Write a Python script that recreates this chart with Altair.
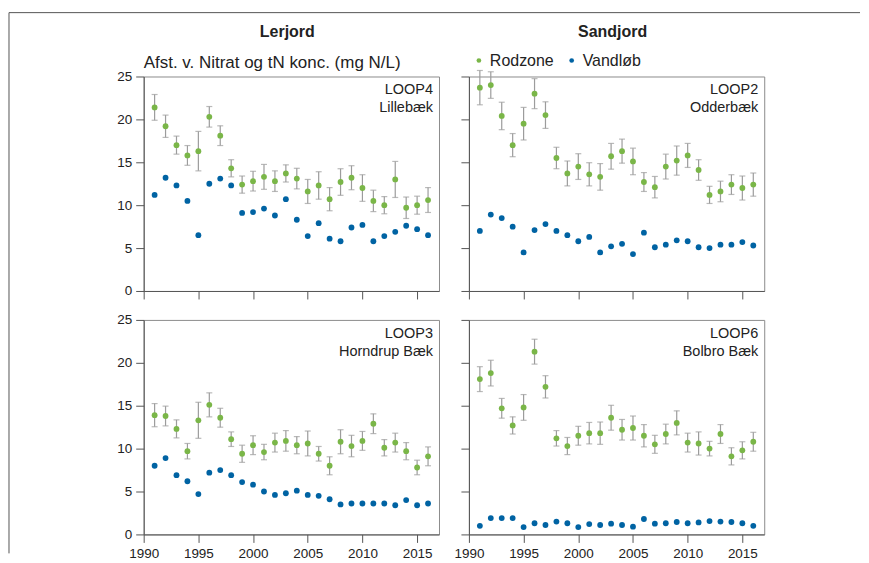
import altair as alt
import pandas as pd

years = list(range(1991, 2017))
x_ticks = [1990, 1995, 2000, 2005, 2010, 2015]
y_ticks = [0, 5, 10, 15, 20, 25]

series_names = ["Rodzone", "Vandløb"]
series_colors = ["#7ab648", "#0063a3"]

col_titles = ["Lerjord", "Sandjord"]
y_title = "Afst. v. Nitrat og tN konc. (mg N/L)"

codes = ["LOOP4", "LOOP2", "LOOP3", "LOOP6"]
names = ["Lillebæk", "Odderbæk", "Horndrup Bæk", "Bolbro Bæk"]

# LOOP4 Lillebæk
loop4_rod = [21.4, 19.2, 17.0, 15.8, 16.3, 20.3, 18.1, 14.3, 12.4, 12.8, 13.3, 12.8, 13.7,
             13.1, 11.6, 12.3, 10.7, 12.7, 13.2, 12.0, 10.5, 10.0, 13.0, 9.7, 10.0, 10.6]
loop4_err = [1.5, 1.3, 1.05, 1.15, 2.3, 1.2, 1.15, 1.0, 1.0, 1.15, 1.45, 1.2, 1.0,
             1.2, 1.4, 1.6, 1.35, 1.55, 1.4, 1.55, 1.25, 1.0, 2.1, 1.25, 1.05, 1.45]
loop4_vand = [11.2, 13.2, 12.3, 10.5, 6.5, 12.5, 13.1, 12.3, 9.1, 9.2, 9.6, 8.8, 10.7,
              8.3, 6.4, 7.9, 6.1, 5.8, 7.4, 7.7, 5.8, 6.4, 6.9, 7.6, 7.2, 6.5]

# LOOP2 Odderbæk
loop2_rod = [23.7, 24.0, 20.4, 17.0, 19.5, 23.0, 20.5, 15.5, 13.7, 14.5, 13.6, 13.3, 15.7,
             16.3, 15.1, 12.7, 12.1, 14.5, 15.2, 15.8, 14.1, 11.2, 11.6, 12.4, 12.0, 12.4]
loop2_err = [2.0, 1.55, 1.6, 1.35, 1.9, 1.75, 1.55, 1.25, 1.45, 1.5, 1.35, 1.55, 1.5,
             1.4, 1.55, 1.1, 1.25, 1.45, 1.7, 1.4, 1.2, 1.0, 1.2, 1.15, 1.4, 1.35]
loop2_vand = [7.0, 8.9, 8.5, 7.5, 4.5, 7.1, 7.8, 7.0, 6.5, 5.8, 6.3, 4.5, 5.2,
              5.5, 4.3, 6.8, 5.1, 5.4, 5.9, 5.8, 5.1, 5.0, 5.4, 5.4, 5.7, 5.3]

# LOOP3 Horndrup Bæk
loop3_rod = [13.9, 13.8, 12.3, 9.7, 13.3, 15.1, 13.6, 11.1, 9.4, 10.4, 9.6, 10.7, 10.9,
             10.4, 10.6, 9.4, 8.0, 10.8, 10.3, 10.9, 12.9, 10.1, 10.7, 9.7, 7.8, 9.1]
loop3_err = [1.35, 1.15, 1.05, 0.9, 2.1, 1.4, 1.1, 0.85, 1.0, 1.1, 0.9, 1.1, 1.2,
             1.0, 1.45, 0.85, 1.05, 1.4, 1.25, 1.1, 1.15, 0.95, 1.1, 1.0, 0.85, 1.1]
loop3_vand = [8.0, 8.9, 6.9, 6.2, 4.7, 7.2, 7.5, 6.9, 6.1, 5.8, 5.0, 4.6, 4.8,
              5.1, 4.6, 4.5, 4.1, 3.5, 3.6, 3.6, 3.6, 3.6, 3.4, 4.0, 3.4, 3.6]

# LOOP6 Bolbro Bæk
loop6_rod = [18.1, 18.8, 14.7, 12.7, 14.8, 21.3, 17.2, 11.2, 10.3, 11.5, 11.8, 11.8, 13.6,
             12.2, 12.4, 11.5, 10.5, 11.7, 13.0, 10.7, 10.6, 10.0, 11.7, 9.1, 9.8, 10.8]
loop6_err = [1.45, 1.5, 1.15, 1.0, 1.5, 1.45, 1.3, 0.9, 1.0, 1.1, 1.25, 1.3, 1.45,
             1.2, 1.4, 1.3, 1.05, 1.15, 1.4, 1.1, 1.35, 0.85, 1.1, 1.0, 1.0, 1.1]
loop6_vand = [1.0, 1.9, 1.9, 1.9, 0.85, 1.3, 1.1, 1.5, 1.3, 0.85, 1.2, 1.1, 1.25,
              1.1, 0.9, 1.8, 1.25, 1.3, 1.45, 1.3, 1.4, 1.55, 1.5, 1.45, 1.3, 1.0]

FONT = "Liberation Sans"
W, H = 296, 215


def panel(rod, err, vand, idx, show_x, show_y, title=None, first=False):
    eb = pd.DataFrame({
        "year": years,
        "lo": [r - e for r, e in zip(rod, err)],
        "hi": [r + e for r, e in zip(rod, err)],
    })
    pts = pd.DataFrame({
        "year": years + years,
        "value": vand + rod,
        "serie": [series_names[1]] * len(years) + [series_names[0]] * len(years),
    })
    xenc = alt.X("year:Q", title=None,
                 scale=alt.Scale(domain=[1990, 2017], nice=False, zero=False),
                 axis=alt.Axis(values=x_ticks, labels=show_x, format="d"))
    yaxis = alt.Axis(values=y_ticks, labels=show_y)
    yscale = alt.Scale(domain=[0, 25], nice=False)

    rules = alt.Chart(eb).mark_rule(color="#9c9c9c", strokeWidth=1.2).encode(
        x=xenc,
        y=alt.Y("lo:Q", scale=yscale, axis=yaxis, title=None),
        y2="hi:Q",
    )
    cap_lo = alt.Chart(eb).mark_tick(orient="horizontal", size=6, thickness=1.2,
                                     color="#9c9c9c").encode(
        x=xenc, y=alt.Y("lo:Q", scale=yscale, axis=yaxis, title=None))
    cap_hi = alt.Chart(eb).mark_tick(orient="horizontal", size=6, thickness=1.2,
                                     color="#9c9c9c").encode(
        x=xenc, y=alt.Y("hi:Q", scale=yscale, axis=yaxis, title=None))
    points = alt.Chart(pts).mark_circle(size=34, opacity=1).encode(
        x=xenc,
        y=alt.Y("value:Q", scale=yscale, axis=yaxis, title=None),
        color=alt.Color("serie:N",
                        scale=alt.Scale(domain=series_names, range=series_colors),
                        legend=alt.Legend(orient="none", legendX=328, legendY=-24,
                                          direction="horizontal", title=None,
                                          symbolType="circle", symbolSize=22,
                                          labelFontSize=16, labelFont=FONT,
                                          labelColor="#222", labelOffset=3,
                                          columnPadding=9)),
    )
    lab = pd.DataFrame({"code": [codes[idx]], "name": [names[idx]]})
    t1 = alt.Chart(lab).mark_text(align="right", baseline="middle", fontSize=14.5,
                                  font=FONT, color="#222").encode(
        text="code:N", x=alt.value(W - 6), y=alt.value(14))
    t2 = alt.Chart(lab).mark_text(align="right", baseline="middle", fontSize=14.5,
                                  font=FONT, color="#222").encode(
        text="name:N", x=alt.value(W - 6), y=alt.value(32))
    layers = [rules, cap_lo, cap_hi, points, t1, t2]
    if first:
        sub = alt.Chart(pd.DataFrame({"t": [y_title]})).mark_text(
            align="left", baseline="middle", fontSize=17, font=FONT, color="#222"
        ).encode(text="t:N", x=alt.value(0), y=alt.value(-14))
        frame_h = alt.Chart(pd.DataFrame({"a": [0]})).mark_rule(
            color="#555", strokeWidth=1).encode(
            x=alt.value(-135), x2=alt.value(718), y=alt.value(-64))
        frame_v = alt.Chart(pd.DataFrame({"a": [0]})).mark_rule(
            color="#555", strokeWidth=1).encode(
            x=alt.value(-135), y=alt.value(-64), y2=alt.value(478))
        layers += [sub, frame_h, frame_v]
    if title:
        tt = alt.Chart(pd.DataFrame({"t": [title]})).mark_text(
            align="center", baseline="middle", fontSize=16, fontWeight="bold",
            font=FONT, color="#222"
        ).encode(text="t:N", x=alt.value(W / 2 - 4), y=alt.value(-45))
        layers.append(tt)
    return alt.layer(*layers).properties(width=W, height=H)


p4 = panel(loop4_rod, loop4_err, loop4_vand, 0, False, True, col_titles[0], first=True)
p2 = panel(loop2_rod, loop2_err, loop2_vand, 1, False, False, col_titles[1])
p3 = panel(loop3_rod, loop3_err, loop3_vand, 2, True, True)
p6 = panel(loop6_rod, loop6_err, loop6_vand, 3, True, False)

chart = alt.concat(p4, p2, p3, p6, columns=2, spacing={"row": 29, "column": 30},
                   bounds="flush").properties(
    padding={"left": 0, "top": 3, "right": 0, "bottom": 0}
).configure(font=FONT).configure_view(
    stroke="#8c8c8c", strokeWidth=1
).configure_axis(
    domainColor="#555", tickColor="#555", tickSize=8, domainWidth=1, tickWidth=1,
    labelFontSize=13.5, labelColor="#222", labelFont=FONT, grid=False, labelPadding=4,
    labelFlush=False
)

chart.save("out.html", embed_options={"renderer": "svg", "actions": False})
